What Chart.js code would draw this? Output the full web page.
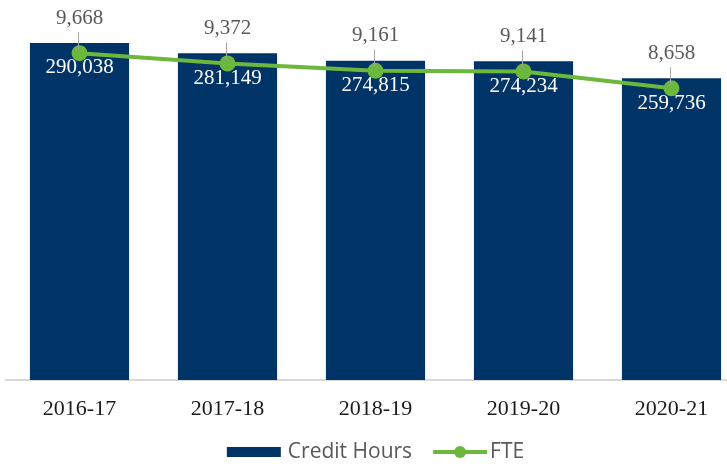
<!DOCTYPE html>
<html lang="en">
<head>
  <meta charset="UTF-8">
  <title>Credit Hours and FTE</title>
  <script src="https://cdn.jsdelivr.net/npm/chart.js"></script>
  <style>
    html, body {
      margin: 0;
      padding: 0;
      background: #fff;
      overflow: hidden;
    }

    #wrap {
      position: relative;
      width: 751px;
      height: 464px;
    }
  </style>
</head>
<body>

  <div id="wrap"><canvas id="chart"></canvas></div>

  <script>
    const years = ['2016-17', '2017-18', '2018-19', '2019-20', '2020-21'];
    const creditHours = [290038, 281149, 274815, 274234, 259736];
    const fte = [9668, 9372, 9161, 9141, 8658];

    // axis ranges (both axes hidden)
    const creditMax = 327000;
    const fteMin = 260;
    const fteMax = 11200;

    const NAVY = '#003366';
    const GREEN = '#6CB83C';
    const SERIF = '"Liberation Serif", "Times New Roman", serif';
    const SANS = '"Open Sans", sans-serif';

    const fmt = v => v.toLocaleString('en-US');

    // value labels: white inside bars, gray with leader line above FTE points
    const valueLabels = {
      id: 'valueLabels',
      afterDatasetsDraw(chart) {
        const ctx = chart.ctx;
        ctx.save();
        ctx.textAlign = 'center';
        ctx.textBaseline = 'middle';

        const bars = chart.getDatasetMeta(0).data;
        ctx.font = '21px ' + SERIF;
        ctx.fillStyle = '#ffffff';
        bars.forEach((bar, i) => {
          ctx.fillText(fmt(creditHours[i]), bar.x, bar.y + 25);
        });

        const pts = chart.getDatasetMeta(1).data;
        pts.forEach((pt, i) => {
          ctx.strokeStyle = '#a6a6a6';
          ctx.lineWidth = 1;
          ctx.beginPath();
          ctx.moveTo(pt.x - 1, pt.y - 21);
          ctx.lineTo(pt.x - 1, pt.y - 4);
          ctx.stroke();
          ctx.fillStyle = '#595959';
          ctx.fillText(fmt(fte[i]), pt.x, pt.y - 35);
        });
        ctx.restore();
      }
    };

    // legend drawn by hand so the spacing follows the original
    const bottomLegend = {
      id: 'bottomLegend',
      afterDraw(chart) {
        const ctx = chart.ctx;
        const y = chart.height - 12;
        ctx.save();
        ctx.font = '21px ' + SANS;
        ctx.textBaseline = 'middle';
        ctx.textAlign = 'left';
        const names = chart.data.datasets.map(d => d.label);
        const w0 = ctx.measureText(names[0]).width;
        const w1 = ctx.measureText(names[1]).width;
        const total = 54 + 7 + w0 + 21 + 54 + 3 + w1;
        let x = chart.width / 2 - total / 2;

        ctx.fillStyle = NAVY;
        ctx.fillRect(x, y - 5, 54, 10);
        x += 54 + 7;
        ctx.fillStyle = '#595959';
        ctx.fillText(names[0], x, y);
        x += w0 + 21;

        ctx.strokeStyle = GREEN;
        ctx.lineWidth = 4;
        ctx.beginPath();
        ctx.moveTo(x, y);
        ctx.lineTo(x + 54, y);
        ctx.stroke();
        ctx.fillStyle = GREEN;
        ctx.beginPath();
        ctx.arc(x + 27, y, 6, 0, Math.PI * 2);
        ctx.fill();
        x += 54 + 3;
        ctx.fillStyle = '#595959';
        ctx.fillText(names[1], x, y);
        ctx.restore();
      }
    };

    new Chart(document.getElementById('chart'), {
      data: {
        labels: years,
        datasets: [
          {
            type: 'bar',
            label: 'Credit Hours',
            data: creditHours,
            backgroundColor: NAVY,
            yAxisID: 'y',
            order: 1,
            barPercentage: 0.67,
            categoryPercentage: 1
          },
          {
            type: 'line',
            label: 'FTE',
            data: fte,
            borderColor: GREEN,
            backgroundColor: GREEN,
            borderWidth: 4,
            pointRadius: 6,
            pointHoverRadius: 6,
            tension: 0,
            yAxisID: 'y1',
            order: 0
          }
        ]
      },
      options: {
        responsive: true,
        maintainAspectRatio: false,
        animation: false,
        layout: {
          autoPadding: false,
          padding: { top: 0, left: 5.5, right: 5.5, bottom: 25.6 }
        },
        scales: {
          x: {
            grid: { display: false, drawTicks: false },
            border: { display: true, color: '#d9d9d9', width: 2 },
            ticks: {
              color: '#1a1a1a',
              font: { family: SERIF, size: 22 },
              padding: 16
            }
          },
          y: {
            display: false,
            min: 0,
            max: creditMax
          },
          y1: {
            display: false,
            position: 'right',
            min: fteMin,
            max: fteMax
          }
        },
        plugins: {
          legend: { display: false },
          tooltip: { enabled: false }
        }
      },
      plugins: [valueLabels, bottomLegend]
    });
  </script>

</body>
</html>
